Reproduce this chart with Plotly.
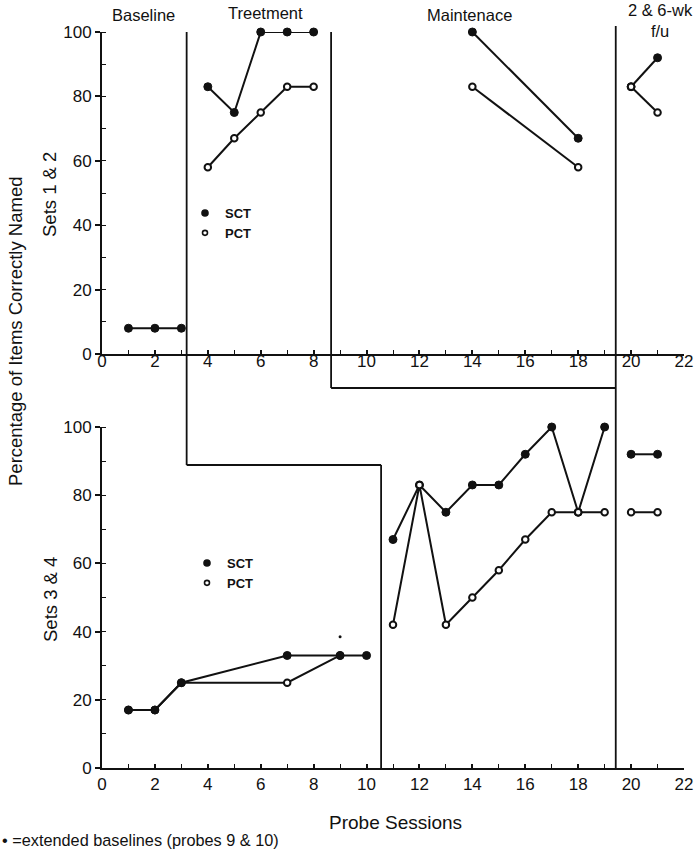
import plotly.graph_objects as go

# ---------------- data ----------------
# Sets 1 & 2 (top panel)
top_base_x = [1, 2, 3]
top_base_sct = [8, 8, 8]
top_treat_x = [4, 5, 6, 7, 8]
top_treat_sct = [83, 75, 100, 100, 100]
top_treat_pct = [58, 67, 75, 83, 83]
top_maint_x = [14, 18]
top_maint_sct = [100, 67]
top_maint_pct = [83, 58]
top_fu_x = [20, 21]
top_fu_sct = [83, 92]
top_fu_pct = [83, 75]

# Sets 3 & 4 (bottom panel)
bot_base_sct_x = [1, 2, 3, 7, 9, 10]
bot_base_sct = [17, 17, 25, 33, 33, 33]
bot_base_pct_x = [1, 2, 3, 7, 9]
bot_base_pct = [17, 17, 25, 25, 33]
bot_treat_x = [11, 12, 13, 14, 15, 16, 17, 18, 19]
bot_treat_sct = [67, 83, 75, 83, 83, 92, 100, 75, 100]
bot_treat_pct = [42, 83, 42, 50, 58, 67, 75, 75, 75]
bot_fu_x = [20, 21]
bot_fu_sct = [92, 92]
bot_fu_pct = [75, 75]

# extended-baseline mark
ext_x = [9]
ext_y = [38.5]

# phase change positions (probe session units)
top_phase_lines = [3.2, 8.66, 19.42]
bot_phase_lines = [10.55, 19.42]

x_ticks = list(range(0, 23, 2))
y_ticks = list(range(0, 101, 20))

# ---------------- layout geometry ----------------
W, H = 694, 849
ML, MR, MT, MB = 102, 10, 32, 81
PH = H - MT - MB
def py(pix):  # pixel y -> paper
    return (H - MB - pix) / PH
def px(pix):  # pixel x -> paper
    return (pix - ML) / (W - ML - MR)

top_dom = [py(354), 1.0]
bot_dom = [0.0, py(427)]

FONT = "Liberation Sans, Arial, Helvetica, sans-serif"
BLACK = "#111111"

fig = go.Figure()

filled = dict(symbol="circle", size=8, color=BLACK, line=dict(color=BLACK, width=1))
openm = dict(symbol="circle", size=6.5, color="white", line=dict(color=BLACK, width=2))
line = dict(color=BLACK, width=2)

def add(x, y, marker, xa, ya):
    fig.add_trace(go.Scatter(x=x, y=y, mode="lines+markers", marker=marker, line=line,
                             xaxis=xa, yaxis=ya, showlegend=False, cliponaxis=False,
                             hoverinfo="x+y"))

# top panel
add(top_base_x, top_base_sct, filled, "x", "y")
add(top_treat_x, top_treat_sct, filled, "x", "y")
add(top_treat_x, top_treat_pct, openm, "x", "y")
add(top_maint_x, top_maint_sct, filled, "x", "y")
add(top_maint_x, top_maint_pct, openm, "x", "y")
add(top_fu_x, top_fu_sct, filled, "x", "y")
add(top_fu_x, top_fu_pct, openm, "x", "y")

# bottom panel
add(bot_base_pct_x, bot_base_pct, openm, "x2", "y2")
add(bot_base_sct_x, bot_base_sct, filled, "x2", "y2")
add(bot_treat_x, bot_treat_sct, filled, "x2", "y2")
add(bot_treat_x, bot_treat_pct, openm, "x2", "y2")
add(bot_fu_x, bot_fu_sct, filled, "x2", "y2")
add(bot_fu_x, bot_fu_pct, openm, "x2", "y2")

fig.add_trace(go.Scatter(x=ext_x, y=ext_y, mode="markers", xaxis="x2", yaxis="y2",
                         marker=dict(size=3, color=BLACK), showlegend=False, cliponaxis=False))

# legend entries
for name, mk, lg in [("SCT", filled, "legend"), ("PCT", openm, "legend"),
                     ("SCT", filled, "legend2"), ("PCT", openm, "legend2")]:
    m = dict(mk)
    m["size"] = 6 if mk is filled else 5
    m["line"] = dict(color=BLACK, width=1.6)
    fig.add_trace(go.Scatter(x=[None], y=[None], mode="markers", marker=m, name=name,
                             legend=lg, showlegend=True,
                             xaxis="x" if lg == "legend" else "x2",
                             yaxis="y" if lg == "legend" else "y2"))

tickfont = dict(family=FONT, size=17, color=BLACK)
axis_common = dict(showline=True, linecolor=BLACK, linewidth=2, showgrid=False,
                   zeroline=False, tickfont=tickfont, tickcolor=BLACK, automargin=False)
xa = dict(axis_common, range=[0, 22], tickvals=x_ticks,
          ticks="inside", ticklen=4, tickwidth=1.5,
          minor=dict(ticks="inside", dtick=1, ticklen=4, tickcolor=BLACK, tickwidth=1.3))
ya = dict(axis_common, range=[0, 100], tickvals=y_ticks,
          ticks="outside", ticklen=5, tickwidth=1.5,
          minor=dict(ticks="inside", dtick=10, ticklen=4, tickcolor=BLACK, tickwidth=1.3))

fig.update_layout(
    width=W, height=H,
    margin=dict(l=ML, r=MR, t=MT, b=MB, autoexpand=False),
    paper_bgcolor="white", plot_bgcolor="white",
    font=dict(family=FONT, color=BLACK),
    xaxis=dict(xa, domain=[0, 1], anchor="y", ticklabelstandoff=-9),
    yaxis=dict(ya, domain=top_dom, anchor="x"),
    xaxis2=dict(xa, domain=[0, 1], anchor="y2"),
    yaxis2=dict(ya, domain=bot_dom, anchor="x2"),
    legend=dict(x=px(185), y=py(198), xanchor="left", yanchor="top",
                bgcolor="rgba(0,0,0,0)", itemwidth=30, tracegroupgap=0,
                font=dict(family=FONT, size=13, color=BLACK, weight="bold")),
    legend2=dict(x=px(187), y=py(548), xanchor="left", yanchor="top",
                 bgcolor="rgba(0,0,0,0)", itemwidth=30, tracegroupgap=0,
                 font=dict(family=FONT, size=13, color=BLACK, weight="bold")),
    showlegend=True,
)

# phase lines
lw = dict(color=BLACK, width=1.8)
conn1 = py(465)   # baseline -> treatment connector (within bottom panel)
conn2 = py(388)   # treatment -> maintenance connector (between panels)
segs = [
    (top_phase_lines[0], 1.0, top_phase_lines[0], conn1),
    (top_phase_lines[0], conn1, bot_phase_lines[0], conn1),
    (bot_phase_lines[0], conn1, bot_phase_lines[0], 0),
    (top_phase_lines[1], 1.0, top_phase_lines[1], conn2),
    (top_phase_lines[1], conn2, bot_phase_lines[1], conn2),
    (top_phase_lines[2], py(26), bot_phase_lines[1], 0),
]
for x0, y0, x1, y1 in segs:
    fig.add_shape(type="line", xref="x", yref="paper", x0=x0, y0=y0, x1=x1, y1=y1, line=lw)

def ann(text, xpix, ypix, size, angle=0, xanchor="center", yanchor="middle"):
    fig.add_annotation(text=text, x=px(xpix), y=py(ypix), xref="paper", yref="paper",
                       showarrow=False, textangle=angle, xanchor=xanchor, yanchor=yanchor,
                       font=dict(family=FONT, size=size, color=BLACK))

ann("Baseline", 143, 15, 16.5)
ann("Treetment", 265, 13, 16.5)
ann("Maintenace", 469, 15, 16.5)
ann("2 &amp; 6-wk<br>f/u", 660, 20, 16.5)
ann("Percentage of Items Correctly Named", 15, 331, 18.5, angle=-90)
ann("Sets 1 &amp; 2", 50, 195, 18.5, angle=-90)
ann("Sets 3 &amp; 4", 50, 600, 18.5, angle=-90)
ann("Probe Sessions", 395, 822, 19)
ann("• =extended baselines (probes 9 &amp; 10)", 0, 840, 16.3, xanchor="left")

fig.write_html("out.html", config={"displayModeBar": False},
               post_script="document.body.style.margin='0';document.body.style.overflow='hidden';")
